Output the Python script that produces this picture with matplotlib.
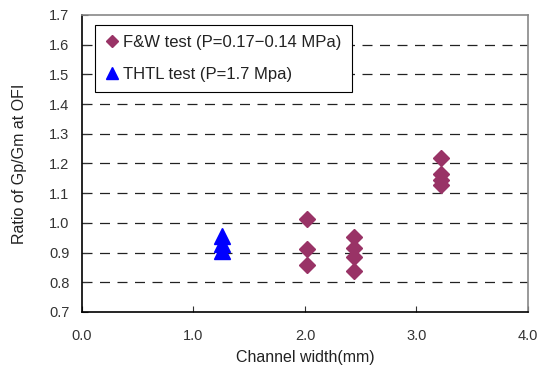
import matplotlib.pyplot as plt

# F&W test data
fw_x = [2.02, 2.02, 2.02, 2.44, 2.44, 2.44, 2.44, 3.22, 3.22, 3.22, 3.22]
fw_y = [1.013, 0.912, 0.858, 0.953, 0.915, 0.885, 0.838, 1.218, 1.165, 1.145, 1.128]

# THTL test data
thtl_x = [1.26, 1.26, 1.26]
thtl_y = [0.905, 0.93, 0.955]

xticks = [0.0, 1.0, 2.0, 3.0, 4.0]
yticks = [0.7, 0.8, 0.9, 1.0, 1.1, 1.2, 1.3, 1.4, 1.5, 1.6, 1.7]

plt.rcParams['font.family'] = ['Liberation Sans', 'DejaVu Sans']

fig = plt.figure(figsize=(5.38, 3.74), dpi=100)
ax = fig.add_axes([0.1524, 0.1658, 0.8290, 0.7941])

for y in yticks[1:-1]:
    ax.axhline(y, color='#222222', lw=0.9, ls=(0, (8, 6)), zorder=1)

ax.plot(fw_x, fw_y, ls='none', marker='D', ms=8, color='#993366',
        label='F&W test (P=0.17\u22120.14 MPa)', zorder=3)
ax.plot(thtl_x, thtl_y, ls='none', marker='^', ms=11, color='#0000FF',
        label='THTL test (P=1.7 Mpa)', zorder=3)

ax.set_xlim(0, 4)
ax.set_ylim(0.7, 1.7)
ax.set_xticks(xticks)
ax.set_xticklabels(['%.1f' % v for v in xticks])
ax.set_yticks(yticks)
ax.set_yticklabels(['%.1f' % v for v in yticks])
ax.tick_params(direction='in', length=4, labelsize=10.5, colors='#333333', pad=9)
ax.tick_params(axis='x', pad=12)

for s in ['left', 'bottom']:
    ax.spines[s].set_color('black')
    ax.spines[s].set_linewidth(1.2)
for s in ['top', 'right']:
    ax.spines[s].set_color('#888888')
    ax.spines[s].set_linewidth(1.2)

ax.set_xlabel('Channel width(mm)', fontsize=11.5, color='#222222', labelpad=5)
ax.set_ylabel('Ratio of Gp/Gm at OFI', fontsize=11.5, color='#222222', labelpad=16)

leg = ax.legend(loc='upper left', bbox_to_anchor=(0.029, 0.966), fontsize=12,
                frameon=True, fancybox=False, edgecolor='black', framealpha=1,
                handlelength=0.8, handletextpad=0.3, borderpad=0.6, labelspacing=1.0,
                borderaxespad=0, markerscale=0.75)
leg.get_frame().set_linewidth(0.8)
for t in leg.get_texts():
    t.set_color('#222222')

fig.savefig('out.png', dpi=100)
